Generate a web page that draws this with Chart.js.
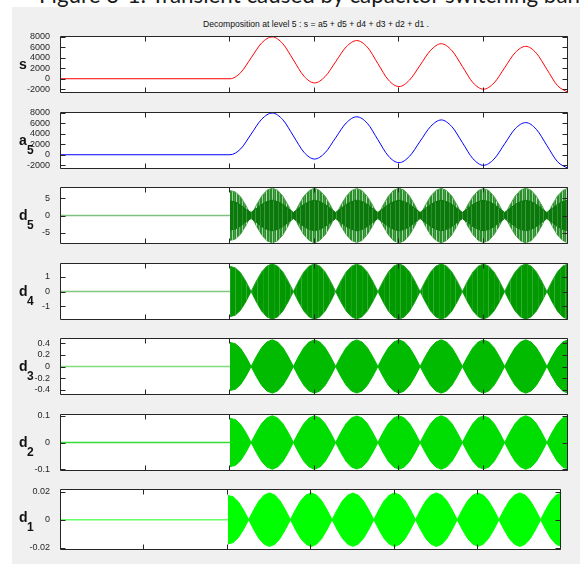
<!DOCTYPE html>
<html>
<head>
<meta charset="utf-8">
<script src="https://cdn.jsdelivr.net/npm/chart.js@4.4.1/dist/chart.umd.min.js"></script>
<style>
  html, body { margin: 0; padding: 0; background: #fff; }
  body { width: 580px; height: 564px; position: relative; overflow: hidden; font-family: 'Liberation Sans', Arial, sans-serif; }
  #fig { position: absolute; left: 12px; top: 7px; right: 0; bottom: 0; background: #f0f0f0; }
  .txt { position: absolute; left: 0; top: 0; white-space: nowrap; transform-origin: 0 0; line-height: 1; }
  #caption { font-family: Lato, 'Open Sans', sans-serif; font-size: 24px; color: #1a1a1a; }
  #title { font-size: 9px; color: #111; }
  .lab { font-size: 14px; font-weight: bold; color: #111; }
  .sub { font-size: 12px; font-weight: bold; color: #111; }
  canvas { position: absolute; left: 0; }
</style>
</head>
<body>
<div id="fig"></div>
<div id="caption" class="txt">Figure 3-1: Transient caused by capacitor switching bank</div>
<div id="title" class="txt">Decomposition at level 5 : s = a5 + d5 + d4 + d3 + d2 + d1 .</div>
<script>
// sample index axis
var xTicks = [2000, 4000, 6000, 8000, 10000, 12000];

// signal s and approximation a5, read every 250 samples after the switching instant
var sX = [0, 4000, 4250, 4500, 4750, 5000, 5250, 5500, 5750, 6000, 6250, 6500, 6750, 7000,
          7250, 7500, 7750, 8000, 8250, 8500, 8750, 9000, 9250, 9500, 9750, 10000,
          10250, 10500, 10750, 11000, 11250, 11500, 11750, 12000];
var sVals = [0, 0, 1150, 4000, 6850, 8000, 6700, 3600, 500, -800, 400, 3250, 6100, 7300,
             6050, 2900, -250, -1500, -250, 2600, 5450, 6700, 5400, 2350, -750, -2000,
             -800, 2100, 5000, 6200, 4900, 1800, -1300, -2600];
var a5Vals = [0, 0, 1100, 3950, 6800, 7980, 6700, 3600, 480, -820, 380, 3250, 6080, 7260,
              6020, 2880, -260, -1520, -280, 2580, 5420, 6660, 5380, 2330, -760, -2030,
              -820, 2080, 4980, 6150, 4870, 1780, -1320, -2620];
var sTicks = [-2000, 0, 2000, 4000, 6000, 8000];

// detail envelopes (upper edge of the oscillation band), read every 125 samples
var envX = [4000, 4125, 4250, 4375, 4500, 4625, 4750, 4875, 5000, 5125, 5250, 5375, 5500,
            5625, 5750, 5875, 6000, 6125, 6250, 6375, 6500, 6625, 6750, 6875, 7000, 7125,
            7250, 7375, 7500, 7625, 7750, 7875, 8000, 8125, 8250, 8375, 8500, 8625, 8750,
            8875, 9000, 9125, 9250, 9375, 9500, 9625, 9750, 9875, 10000, 10125, 10250,
            10375, 10500, 10625, 10750, 10875, 11000, 11125, 11250, 11375, 11500, 11625,
            11750, 11875, 12000];

var d5Env = [7.2, 6.8, 5.4, 2.9, 0,
             3.0, 5.6, 7.3, 7.9, 7.3, 5.6, 3.0, 0,
             3.0, 5.6, 7.2, 7.9, 7.2, 5.6, 3.0, 0,
             3.0, 5.5, 7.2, 7.8, 7.2, 5.5, 3.0, 0,
             3.0, 5.6, 7.3, 7.9, 7.3, 5.6, 3.0, 0,
             3.0, 5.6, 7.2, 7.9, 7.2, 5.6, 3.0, 0,
             3.0, 5.5, 7.2, 7.8, 7.2, 5.5, 3.0, 0,
             3.0, 5.6, 7.3, 7.9, 7.3, 5.6, 3.0, 0,
             3.0, 5.6, 7.2, 7.9];
var d5Core = [4.2, 3.9, 3.0, 1.8, 0.9,
              2.0, 3.2, 4.0, 4.4, 4.0, 3.2, 2.0, 0.9,
              2.0, 3.2, 4.0, 4.4, 4.0, 3.2, 2.0, 0.9,
              2.0, 3.2, 4.0, 4.4, 4.0, 3.2, 2.0, 0.9,
              2.0, 3.2, 4.0, 4.4, 4.0, 3.2, 2.0, 0.9,
              2.0, 3.2, 4.0, 4.4, 4.0, 3.2, 2.0, 0.9,
              2.0, 3.2, 4.0, 4.4, 4.0, 3.2, 2.0, 0.9,
              2.0, 3.2, 4.0, 4.4, 4.0, 3.2, 2.0, 0.9,
              2.0, 3.2, 4.0, 4.4];
var d4Env = [1.70, 1.60, 1.27, 0.69, 0,
             0.71, 1.33, 1.72, 1.87, 1.72, 1.33, 0.71, 0,
             0.71, 1.33, 1.72, 1.87, 1.72, 1.33, 0.71, 0,
             0.71, 1.32, 1.71, 1.86, 1.71, 1.32, 0.71, 0,
             0.71, 1.33, 1.72, 1.87, 1.72, 1.33, 0.71, 0,
             0.71, 1.33, 1.72, 1.87, 1.72, 1.33, 0.71, 0,
             0.71, 1.32, 1.71, 1.86, 1.71, 1.32, 0.71, 0,
             0.71, 1.33, 1.72, 1.87, 1.72, 1.33, 0.71, 0,
             0.71, 1.33, 1.72, 1.87];
var d3Env = [0.41, 0.39, 0.31, 0.17, 0,
             0.173, 0.323, 0.419, 0.455, 0.419, 0.323, 0.173, 0,
             0.173, 0.323, 0.419, 0.455, 0.419, 0.323, 0.173, 0,
             0.172, 0.322, 0.418, 0.454, 0.418, 0.322, 0.172, 0,
             0.173, 0.323, 0.419, 0.455, 0.419, 0.323, 0.173, 0,
             0.173, 0.323, 0.419, 0.455, 0.419, 0.323, 0.173, 0,
             0.172, 0.322, 0.418, 0.454, 0.418, 0.322, 0.172, 0,
             0.173, 0.323, 0.419, 0.455, 0.419, 0.323, 0.173, 0,
             0.173, 0.323, 0.419, 0.455];
var d2Env = [0.090, 0.086, 0.068, 0.037, 0,
             0.038, 0.071, 0.092, 0.100, 0.092, 0.071, 0.038, 0,
             0.038, 0.071, 0.092, 0.100, 0.092, 0.071, 0.038, 0,
             0.038, 0.071, 0.092, 0.099, 0.092, 0.071, 0.038, 0,
             0.038, 0.071, 0.092, 0.100, 0.092, 0.071, 0.038, 0,
             0.038, 0.071, 0.092, 0.100, 0.092, 0.071, 0.038, 0,
             0.038, 0.071, 0.092, 0.099, 0.092, 0.071, 0.038, 0,
             0.038, 0.071, 0.092, 0.100, 0.092, 0.071, 0.038, 0,
             0.038, 0.071, 0.092, 0.100];
var d1Env = [0.0172, 0.0163, 0.0128, 0.0070, 0,
             0.0072, 0.0135, 0.0175, 0.0190, 0.0175, 0.0135, 0.0072, 0,
             0.0072, 0.0135, 0.0175, 0.0190, 0.0175, 0.0135, 0.0072, 0,
             0.0072, 0.0134, 0.0174, 0.0189, 0.0174, 0.0134, 0.0072, 0,
             0.0072, 0.0135, 0.0175, 0.0190, 0.0175, 0.0135, 0.0072, 0,
             0.0072, 0.0135, 0.0175, 0.0190, 0.0175, 0.0135, 0.0072, 0,
             0.0072, 0.0134, 0.0174, 0.0189, 0.0174, 0.0134, 0.0072, 0,
             0.0072, 0.0135, 0.0175, 0.0190, 0.0175, 0.0135, 0.0072, 0,
             0.0072, 0.0135, 0.0175, 0.0190];

// flat part before the switching instant
var preX = [0, 4000];
var preVals = [0, 0];

var d5Ticks = [-5, 0, 5];
var d4Ticks = [-1, 0, 1];
var d3Ticks = [-0.4, -0.2, 0, 0.2, 0.4];
var d2Ticks = [-0.1, 0, 0.1];
var d1Ticks = [-0.02, 0, 0.02];

var PANEL_TOPS = [32, 108, 183, 259, 334, 410, 485];
var PANEL_H = 65;
var PAD = 4;
var XAXIS_H = 16;
var TICK_FONT = { family: "'Liberation Sans', Arial, sans-serif", size: 9 };
var INK = '#262626';

function pts(xs, ys) {
    return xs.map(function (x, i) { return { x: x, y: ys[i] }; });
}
function neg(ys) {
    return ys.map(function (v) { return -v; });
}

// vertical streak texture for the densely oscillating band
function streaks(colors) {
    var c = document.createElement('canvas');
    c.width = colors.length;
    c.height = 1;
    var g = c.getContext('2d');
    colors.forEach(function (col, i) {
        g.fillStyle = col;
        g.fillRect(i, 0, 1, 1);
    });
    return g.createPattern(c, 'repeat');
}

// white plot area, box and inward tick marks on all four sides
var framePlugin = {
    id: 'frame',
    beforeDraw: function (chart) {
        var a = chart.chartArea, ctx = chart.ctx;
        ctx.save();
        ctx.fillStyle = '#fff';
        ctx.fillRect(a.left, a.top, a.right - a.left, a.bottom - a.top);
        ctx.restore();
    },
    afterDraw: function (chart) {
        var a = chart.chartArea, ctx = chart.ctx;
        var xs = chart.scales.x, ys = chart.scales.y;
        var l = Math.round(a.left) - 0.5, r = Math.round(a.right) - 0.5;
        var t = Math.round(a.top) + 0.5, b = Math.round(a.bottom) - 0.5;
        var len = 5;
        ctx.save();
        ctx.strokeStyle = INK;
        ctx.lineWidth = 1;
        ctx.beginPath();
        ctx.rect(l, t, r - l, b - t);
        xTicks.forEach(function (v) {
            var px = Math.round(xs.getPixelForValue(v)) - 0.5;
            ctx.moveTo(px, t); ctx.lineTo(px, t + len);
            ctx.moveTo(px, b); ctx.lineTo(px, b - len);
        });
        ys.ticks.forEach(function (tk) {
            var py = Math.round(ys.getPixelForValue(tk.value)) + 0.5;
            ctx.moveTo(l, py); ctx.lineTo(l + len, py);
            ctx.moveTo(r, py); ctx.lineTo(r - len, py);
        });
        ctx.stroke();
        ctx.restore();
    }
};

function makePanel(idx, datasets, yMin, yMax, yTicks, showX) {
    var cv = document.createElement('canvas');
    var h = PAD + PANEL_H + (showX ? XAXIS_H : PAD);
    cv.width = 580;
    cv.height = h;
    cv.style.top = (PANEL_TOPS[idx] - PAD) + 'px';
    document.body.appendChild(cv);

    return new Chart(cv, {
        type: 'line',
        data: { datasets: datasets },
        options: {
            responsive: false,
            animation: false,
            devicePixelRatio: 1,
            events: [],
            layout: { autoPadding: false, padding: { left: 0, right: 12, top: PAD, bottom: showX ? 0 : PAD } },
            plugins: { legend: { display: false }, tooltip: { enabled: false } },
            elements: { point: { radius: 0 } },
            scales: {
                x: {
                    type: 'linear', min: 0, max: 12000, display: showX,
                    grid: { display: false }, border: { display: false },
                    ticks: { font: TICK_FONT, color: INK, padding: 6, maxRotation: 0, autoSkip: false,
                             callback: function (v) { return String(v); } },
                    afterBuildTicks: function (s) { s.ticks = xTicks.map(function (v) { return { value: v }; }); },
                    afterFit: function (s) { s.height = showX ? XAXIS_H : 0; }
                },
                y: {
                    min: yMin, max: yMax,
                    grid: { display: false }, border: { display: false },
                    ticks: { font: TICK_FONT, color: INK, padding: 3, autoSkip: false,
                             callback: function (v) { return String(v); } },
                    afterBuildTicks: function (s) { s.ticks = yTicks.map(function (v) { return { value: v }; }); },
                    afterFit: function (s) { s.width = 61; }
                }
            }
        },
        plugins: [framePlugin]
    });
}

function traceSet(ys, color) {
    return { data: pts(sX, ys), borderColor: color, borderWidth: 1, cubicInterpolationMode: 'monotone', fill: false };
}

// oscillation band drawn as a filled envelope, plus the flat lead-in
function bandSets(env, fill, edge, preColor, core, coreFill, coreEdge) {
    var sets = [
        { data: pts(preX, preVals), borderColor: preColor, borderWidth: 1.5, fill: false, order: 0 }
    ];
    if (core) {
        sets.push({ data: pts(envX, core), borderColor: coreEdge, backgroundColor: coreFill, borderWidth: 1, fill: '+1', order: 1 });
        sets.push({ data: pts(envX, neg(core)), borderColor: coreEdge, borderWidth: 1, fill: false, order: 1 });
    }
    sets.push({ data: pts(envX, env), borderColor: edge, backgroundColor: fill, borderWidth: 1, fill: '+1', order: 2 });
    sets.push({ data: pts(envX, neg(env)), borderColor: edge, borderWidth: 1, fill: false, order: 2 });
    return sets;
}

var d5Outer = streaks(['#2a8c2a', '#2a8c2a', '#9fd39f', '#2a8c2a', '#4aa34a', '#2a8c2a', '#b5deb5', '#2a8c2a', '#2a8c2a', '#6bb66b']);
var d5Inner = streaks(['#0a780a', '#0a780a', '#0a780a', '#3e993e', '#0a780a', '#0a780a', '#0a780a', '#0a780a', '#2f8f2f']);
var d4Fill = streaks(['#009900', '#009900', '#009900', '#009900', '#33ad33', '#009900', '#009900', '#009900', '#009900', '#009900', '#1aa31a']);

makePanel(0, [traceSet(sVals, '#ff0000')], -2650, 8100, sTicks, false);
makePanel(1, [traceSet(a5Vals, '#0000ff')], -2650, 8100, sTicks, false);
makePanel(2, bandSets(d5Env, d5Outer, '#55a855', '#7fbf7f', d5Core, d5Inner, '#0a780a'), -8.1, 8.1, d5Ticks, false);
makePanel(3, bandSets(d4Env, d4Fill, '#2aa62a', '#80c880'), -1.9, 1.9, d4Ticks, false);
makePanel(4, bandSets(d3Env, '#00bb00', '#00bb00', '#80dd80'), -0.48, 0.48, d3Ticks, false);
makePanel(5, bandSets(d2Env, '#00dd00', '#00dd00', '#33dd33'), -0.105, 0.105, d2Ticks, false);
makePanel(6, bandSets(d1Env, '#00ff00', '#00ff00', '#66ff66'), -0.0215, 0.0215, d1Ticks, true);

// place a text block by its baseline; optional horizontal squeeze to a target width
function placeText(el, x, baseline, width, center) {
    var mark = document.createElement('span');
    mark.style.cssText = 'display:inline-block;width:0;height:0;vertical-align:baseline';
    el.appendChild(mark);
    var off = mark.offsetTop;
    var w = el.getBoundingClientRect().width;
    var k = width ? width / w : 1;
    el.style.transform = 'scaleX(' + k + ')';
    el.style.left = (center ? x - w * k / 2 : x) + 'px';
    el.style.top = (baseline - off) + 'px';
}

function rowLabel(main, sub, idx) {
    var cy = PANEL_TOPS[idx] + PANEL_H / 2;
    var m = document.createElement('div');
    m.className = 'txt lab';
    m.textContent = main;
    document.body.appendChild(m);
    placeText(m, 19, cy + 4);
    if (sub) {
        var s = document.createElement('div');
        s.className = 'txt sub';
        s.textContent = sub;
        document.body.appendChild(s);
        placeText(s, 27, cy + 13);
    }
}

var capEl = document.getElementById('caption');
var capProbe = capEl.cloneNode(false);
capProbe.textContent = 'Figure 3-1: Transient caused by capacitor switching ban';
capProbe.style.visibility = 'hidden';
document.body.appendChild(capProbe);
var capScale = (580 - 39) / capProbe.getBoundingClientRect().width;
capProbe.remove();
placeText(capEl, 39, 3);
capEl.style.transform = 'scaleX(' + capScale + ')';

placeText(document.getElementById('title'), 316, 27, 226, true);

rowLabel('s', '', 0);
rowLabel('a', '5', 1);
rowLabel('d', '5', 2);
rowLabel('d', '4', 3);
rowLabel('d', '3', 4);
rowLabel('d', '2', 5);
rowLabel('d', '1', 6);
</script>
</body>
</html>
